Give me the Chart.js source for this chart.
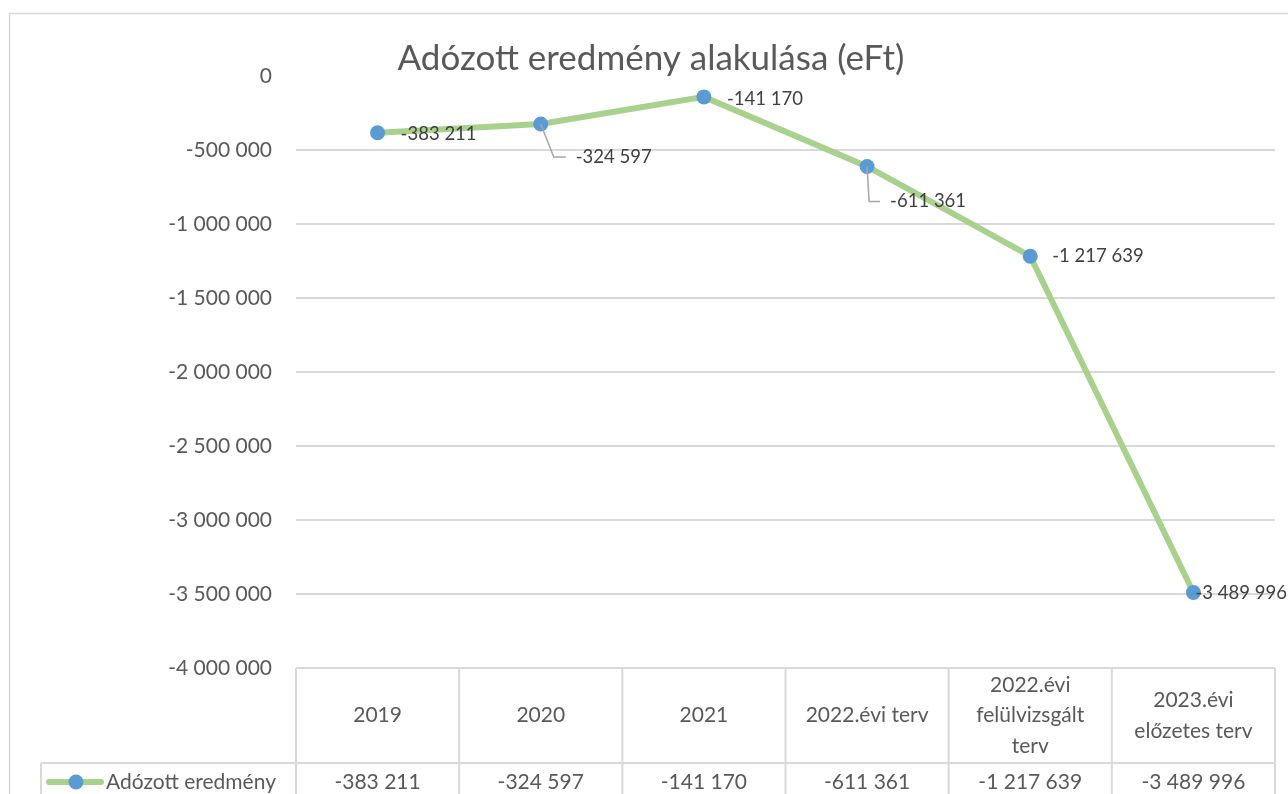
<!DOCTYPE html>
<html>
<head>
<meta charset="utf-8">
<script src="https://cdn.jsdelivr.net/npm/chart.js"></script>
<style>
  html, body { margin: 0; padding: 0; background: #fff; }
  #wrap { width: 1288px; height: 794px; }
</style>
</head>
<body>
<div id="wrap"><canvas id="chart" width="1288" height="794"></canvas></div>
<script>
// chart data
const categories = ['2019', '2020', '2021', ['2022.évi terv'], ['2022.évi', 'felülvizsgált', 'terv'], ['2023.évi', 'előzetes terv']];
const seriesName = 'Adózott eredmény';
const values = [-383211, -324597, -141170, -611361, -1217639, -3489996];
const yTicks = [0, -500000, -1000000, -1500000, -2000000, -2500000, -3000000, -3500000, -4000000];

const FONT = 'Lato, "Open Sans", sans-serif';
const GREEN = '#A9D18E';
const BLUE = '#5B9BD5';
const GRID = '#D9D9D9';
const TEXT = '#595959';

function fmt(v) {
    const s = Math.abs(v).toString().replace(/\B(?=(\d{3})+(?!\d))/g, ' ');
    return (v < 0 ? '-' : '') + s;
}

// label placement next to each point (dx, dy from the point, optional leader line)
const labelPlacement = [
    { dx: 23, dy: 1 },
    { dx: 35, dy: 33, leader: true },
    { dx: 23, dy: 2 },
    { dx: 23, dy: 35, leader: true },
    { dx: 22, dy: 0 },
    { dx: 2, dy: 1 }
];

const dataLabels = {
    id: 'dataLabels',
    afterDatasetsDraw(chart) {
        const ctx = chart.ctx;
        const meta = chart.getDatasetMeta(0);
        ctx.save();
        ctx.font = '18.5px ' + FONT;
        ctx.fillStyle = '#404040';
        ctx.textBaseline = 'middle';
        ctx.textAlign = 'left';
        meta.data.forEach((pt, i) => {
            const p = labelPlacement[i];
            const tx = pt.x + p.dx;
            const ty = pt.y + p.dy;
            if (p.leader) {
                ctx.strokeStyle = '#A6A6A6';
                ctx.lineWidth = 1.5;
                ctx.beginPath();
                ctx.moveTo(pt.x, pt.y);
                ctx.lineTo(pt.x + (p.dx > 30 ? 13 : 2), ty);
                ctx.lineTo(tx - 10, ty);
                ctx.stroke();
            }
            ctx.fillText(fmt(values[i]), tx, ty);
        });
        ctx.restore();
    }
};

const dataTable = {
    id: 'dataTable',
    afterDraw(chart) {
        const ctx = chart.ctx;
        const xs = chart.scales.x;
        const area = chart.chartArea;
        const step = xs.getPixelForValue(1) - xs.getPixelForValue(0);
        const left = area.left, right = area.right;
        const top = area.bottom, split = 763, bottom = 800, legendLeft = 41;
        ctx.save();

        // outer chart border
        ctx.strokeStyle = GRID;
        ctx.lineWidth = 1.5;
        ctx.strokeRect(9.5, 13.5, 1300, 800);

        // table grid
        ctx.strokeStyle = GRID;
        ctx.lineWidth = 2;
        ctx.beginPath();
        ctx.moveTo(left, top); ctx.lineTo(right, top);
        ctx.moveTo(legendLeft, split); ctx.lineTo(right, split);
        ctx.moveTo(legendLeft, split); ctx.lineTo(legendLeft, bottom);
        for (let i = 0; i <= categories.length; i++) {
            const x = xs.getPixelForValue(0) - step / 2 + i * step;
            ctx.moveTo(x, top); ctx.lineTo(x, bottom);
        }
        ctx.stroke();

        // header cells
        ctx.fillStyle = TEXT;
        ctx.font = '21px ' + FONT;
        ctx.textAlign = 'center';
        ctx.textBaseline = 'middle';
        const lh = 30.5;
        categories.forEach((c, i) => {
            const lines = Array.isArray(c) ? c : [c];
            const cx = xs.getPixelForValue(i);
            const cy = (top + split) / 2;
            lines.forEach((ln, k) => {
                ctx.fillText(ln, cx, cy + (k - (lines.length - 1) / 2) * lh);
            });
            ctx.fillText(fmt(values[i]), cx, 782);
        });

        // legend key in the row header
        const ly = 782;
        ctx.strokeStyle = GREEN;
        ctx.lineWidth = 6;
        ctx.lineCap = 'round';
        ctx.beginPath();
        ctx.moveTo(49, ly); ctx.lineTo(101, ly);
        ctx.stroke();
        ctx.fillStyle = BLUE;
        ctx.beginPath();
        ctx.arc(76, ly, 7.5, 0, Math.PI * 2);
        ctx.fill();
        ctx.fillStyle = TEXT;
        ctx.textAlign = 'left';
        ctx.fillText(seriesName, 106, ly);
        ctx.restore();
    }
};

new Chart(document.getElementById('chart').getContext('2d'), {
    type: 'line',
    data: {
        labels: categories,
        datasets: [{
            label: seriesName,
            data: values,
            borderColor: GREEN,
            borderWidth: 6,
            pointBackgroundColor: BLUE,
            pointBorderColor: BLUE,
            pointRadius: 7.5,
            pointBorderWidth: 0,
            tension: 0,
            clip: false
        }]
    },
    options: {
        responsive: false,
        animation: false,
        layout: { padding: { left: 27, right: 13, top: 0, bottom: 0 } },
        plugins: {
            legend: { display: false },
            tooltip: { enabled: false },
            title: {
                display: true,
                text: 'Adózott eredmény alakulása (eFt)',
                color: TEXT,
                font: { family: FONT, size: 35, weight: 'normal', lineHeight: 1.0 },
                padding: { top: 41, bottom: 0 }
            }
        },
        scales: {
            x: {
                type: 'category',
                offset: true,
                grid: { display: false },
                border: { display: false },
                ticks: { display: false },
                afterFit(scale) { scale.height = 794 - 668; }
            },
            y: {
                min: -4000000,
                max: 0,
                afterBuildTicks(scale) { scale.ticks = yTicks.map(v => ({ value: v })); },
                afterFit(scale) { scale.width = 269; },
                border: { display: false },
                grid: {
                    drawTicks: false,
                    lineWidth: 2,
                    color: c => (c.tick && c.tick.value === 0) ? 'rgba(0,0,0,0)' : GRID
                },
                ticks: {
                    color: TEXT,
                    font: { family: FONT, size: 21 },
                    padding: 24,
                    callback: v => fmt(v)
                }
            }
        }
    },
    plugins: [dataLabels, dataTable]
});
</script>
</body>
</html>
